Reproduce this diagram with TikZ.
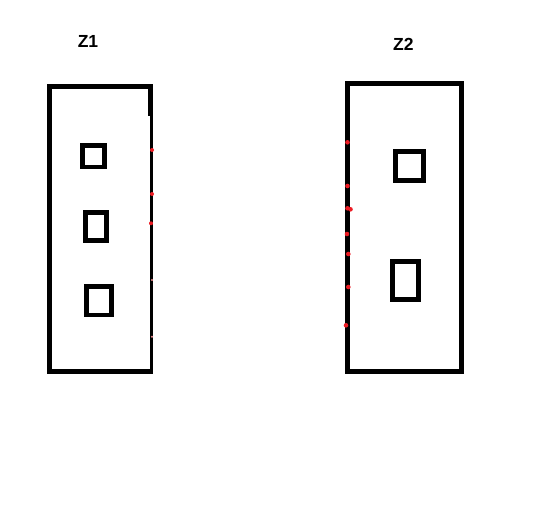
\documentclass[tikz,border=0pt]{standalone}
\usepackage{fontspec}
\setmainfont{Liberation Sans}
\definecolor{paintred}{RGB}{237,28,36}
\begin{document}
\begin{tikzpicture}[x=1pt,y=-1pt,
  zone/.style={rectangle,inner sep=0pt,outer sep=0pt,line width=5pt},
  slot/.style={rectangle,draw,inner sep=0pt,outer sep=0pt,line width=4.7pt},
  lbl/.style={font=\fontsize{17.5pt}{19pt}\selectfont\bfseries,inner sep=0pt,anchor=base},
  pin/.style={fill=paintred},
  faintpin/.style={fill=paintred!50}]
\useasboundingbox (0,0) rectangle (551,517);
\fill[white] (0,0) rectangle (551,517);
% Z1
\node[zone,minimum width=101pt,minimum height=285pt] (z1) at (99.7,229) {};
\draw[line width=5pt,line cap=rect] (z1.north east) -- (z1.north west) -- (z1.south west) -- (z1.south east);
\draw[line width=5pt,line cap=rect] (z1.north east) -- ([yshift=-27pt]z1.north east);
\draw[line width=3.2pt] ([xshift=0.9pt,yshift=-27pt]z1.north east) -- ([xshift=0.9pt,yshift=2.5pt]z1.south east);
\node[lbl] (l1) at (88,47.3) {Z1};
\node[slot,minimum width=22pt,minimum height=21.3pt] (a1) at (93.3,156.3) {};
\node[slot,minimum width=20.7pt,minimum height=28pt] (a2) at (96,226.3) {};
\node[slot,minimum width=25pt,minimum height=28.6pt] (a3) at (98.8,300.7) {};
\fill[pin] (152,150) circle (2pt);
\fill[pin] (152,194) circle (2pt);
\fill[pin] (151,223.3) circle (2pt);
\fill[faintpin] (152,280) circle (1.2pt);
\fill[faintpin] (152,336.7) circle (1.2pt);
% Z2
\node[zone,draw,minimum width=113.5pt,minimum height=287.5pt] (z2) at (404.25,227.25) {};
\node[lbl] (l2) at (403.3,50.3) {Z2};
\node[slot,minimum width=28pt,minimum height=29pt] (b1) at (409.7,165.8) {};
\node[slot,minimum width=26pt,minimum height=38pt] (b2) at (405.3,280.3) {};
\fill[pin] (347.5,142.3) circle (2.3pt);
\fill[pin] (347.5,186) circle (2.3pt);
\fill[pin] (347.5,208.3) circle (2.3pt);
\fill[pin] (350.5,209.3) circle (2.3pt);
\fill[pin] (347,234) circle (2.3pt);
\fill[pin] (348.3,254) circle (2.3pt);
\fill[pin] (348.3,287) circle (2.3pt);
\fill[pin] (346,325.3) circle (2.3pt);
\end{tikzpicture}
\end{document}
